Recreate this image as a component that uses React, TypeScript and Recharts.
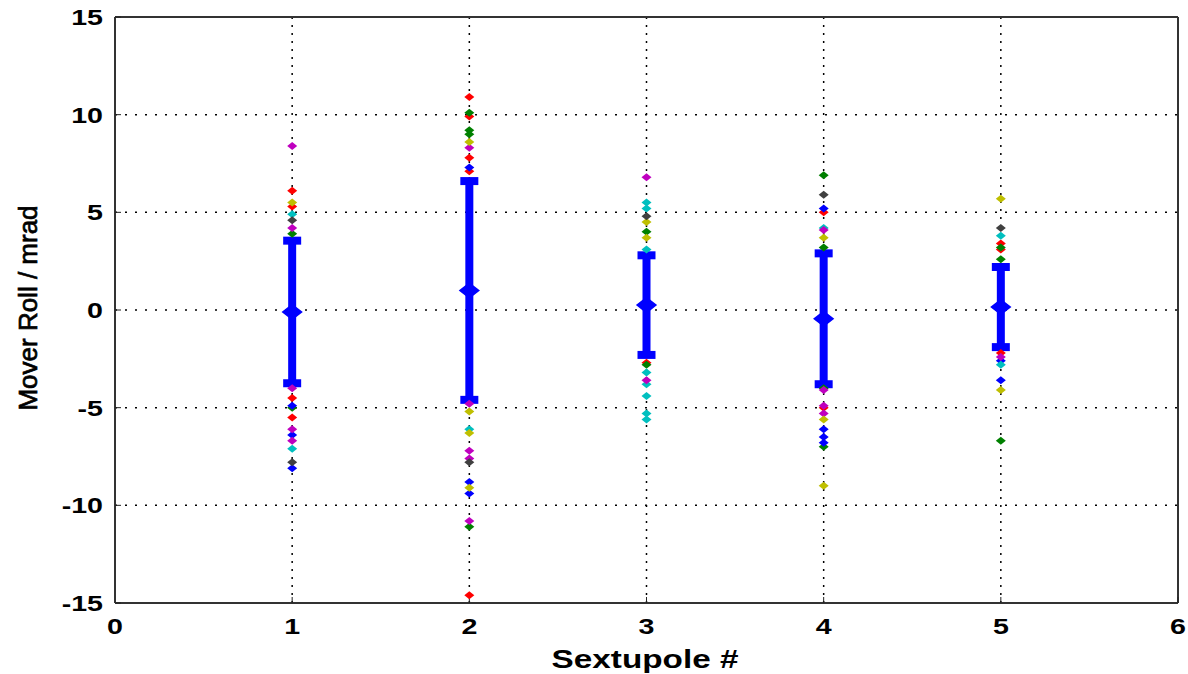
import {
  ScatterChart,
  Scatter,
  XAxis,
  YAxis,
  CartesianGrid,
  ErrorBar,
  ReferenceLine,
} from "recharts";

// [sextupole, roll in mrad] per measurement colour
const redPts = [
  [1, 6.1], [1, 5.3], [1, -4.5], [1, -5.5],
  [2, 10.9], [2, 9.9], [2, 7.8], [2, 7.1], [2, -14.6],
  [3, -2.7],
  [4, 5.0], [4, -5.0],
  [5, 3.4], [5, 3.1], [5, -2.2],
];
const greenPts = [
  [1, 3.9], [1, -5.0],
  [2, 10.1], [2, 9.2], [2, 9.0], [2, -11.1],
  [3, 4.0], [3, -2.8],
  [4, 6.9], [4, 3.2], [4, -4.0], [4, -7.0],
  [5, 3.2], [5, 2.6], [5, -6.7],
];
const bluePts = [
  [1, -4.9], [1, -6.4], [1, -8.1],
  [2, 7.3], [2, -8.8], [2, -9.4],
  [4, 5.2], [4, -6.1], [4, -6.5], [4, -6.8],
  [5, -2.6], [5, -3.6],
];
const cyanPts = [
  [1, 4.9], [1, -7.1],
  [2, -6.1],
  [3, 5.5], [3, 5.2], [3, 3.1], [3, -3.2], [3, -3.8], [3, -4.4], [3, -5.3], [3, -5.6],
  [4, 4.2],
  [5, 3.8], [5, -2.8],
];
const magentaPts = [
  [1, 8.4], [1, 4.2], [1, -4.0], [1, -6.1], [1, -6.7],
  [2, 8.3], [2, -4.8], [2, -7.2], [2, -7.6], [2, -10.8],
  [3, 6.8], [3, -3.6],
  [4, 4.1], [4, -4.1], [4, -4.9], [4, -5.3],
  [5, -2.4],
];
const yellowPts = [
  [1, 5.5],
  [2, 8.6], [2, -5.2], [2, -6.3], [2, -9.1],
  [3, 4.5], [3, 3.7],
  [4, 3.7], [4, -5.6], [4, -9.0],
  [5, 5.7], [5, -4.1],
];
const grayPts = [
  [1, 4.6], [1, -7.8],
  [2, -7.8],
  [3, 4.8],
  [4, 5.9],
  [5, 4.2],
];

// mean and standard deviation per sextupole
const sextupoles = [1, 2, 3, 4, 5];
const means = [-0.1, 1.0, 0.25, -0.45, 0.15];
const stds = [3.65, 5.6, 2.55, 3.35, 2.05];

const xTicks = [0, 1, 2, 3, 4, 5, 6];
const yTicks = [-15, -10, -5, 0, 5, 10, 15];

const series = [
  { name: "red", color: "#ff0000", pts: redPts },
  { name: "green", color: "#008000", pts: greenPts },
  { name: "blue", color: "#0000ff", pts: bluePts },
  { name: "cyan", color: "#00bfbf", pts: cyanPts },
  { name: "magenta", color: "#bf00bf", pts: magentaPts },
  { name: "yellow", color: "#bfbf00", pts: yellowPts },
  { name: "gray", color: "#404040", pts: grayPts },
];

const meanData = sextupoles.map((s, i) => ({ x: s, y: means[i], err: stds[i] }));

const FONT = '"Liberation Sans", Arial, sans-serif';

function Diamond(props: any) {
  const { cx, cy, fill } = props;
  if (cx == null || cy == null) return null;
  return (
    <polygon
      points={`${cx},${cy - 4} ${cx + 5},${cy} ${cx},${cy + 4} ${cx - 5},${cy}`}
      fill={fill}
    />
  );
}

function MeanMarker(props: any) {
  const { cx, cy } = props;
  if (cx == null || cy == null) return null;
  return (
    <polygon
      points={`${cx},${cy - 7} ${cx + 9},${cy} ${cx},${cy + 7} ${cx - 9},${cy}`}
      fill="#0000ff"
      stroke="#0000ff"
      strokeWidth={2}
    />
  );
}

function XTick(props: any) {
  const { x, payload } = props;
  return (
    <text
      transform={`translate(${x},634) scale(1.3,1)`}
      textAnchor="middle"
      fontFamily={FONT}
      fontWeight="bold"
      fontSize={22}
      fill="#000"
    >
      {payload.value}
    </text>
  );
}

function YTick(props: any) {
  const { y, payload } = props;
  return (
    <text
      transform={`translate(103,${y + 8}) scale(1.3,1)`}
      textAnchor="end"
      fontFamily={FONT}
      fontWeight="bold"
      fontSize={22}
      fill="#000"
    >
      {payload.value}
    </text>
  );
}

export default function App() {
  return (
    <div style={{ position: "absolute", left: 0, top: 0, background: "#fff" }}>
      <ScatterChart
        width={1188}
        height={674}
        margin={{ top: 17, right: 10, bottom: 0, left: 0 }}
      >
        <CartesianGrid
          vertical={false}
          stroke="#000"
          strokeWidth={1.5}
          strokeDasharray="2 8"
        />
        {sextupoles.map((s) => (
          <ReferenceLine
            key={"v" + s}
            x={s}
            stroke="#000"
            strokeWidth={1.5}
            strokeDasharray="2 6"
          />
        ))}
        <XAxis
          type="number"
          dataKey="x"
          domain={[0, 6]}
          ticks={xTicks}
          interval={0}
          height={71}
          tick={<XTick />}
          tickSize={-6}
          tickMargin={6}
          tickLine={{ stroke: "#222" }}
          axisLine={{ stroke: "#333", strokeWidth: 2 }}
          allowDataOverflow
        />
        <YAxis
          type="number"
          dataKey="y"
          domain={[-15, 15]}
          ticks={yTicks}
          interval={0}
          width={115}
          tick={<YTick />}
          tickSize={-6}
          tickMargin={6}
          tickLine={{ stroke: "#222" }}
          axisLine={{ stroke: "#333", strokeWidth: 2 }}
          allowDataOverflow
        />
        <ReferenceLine y={15} stroke="#333" strokeWidth={2} />
        <ReferenceLine x={6} stroke="#333" strokeWidth={2} />
        {series.map((s) => (
          <Scatter
            key={s.name}
            name={s.name}
            data={s.pts.map(([x, y]) => ({ x, y }))}
            fill={s.color}
            shape={<Diamond />}
            isAnimationActive={false}
          />
        ))}
        <Scatter
          name="mean"
          data={meanData}
          fill="#0000ff"
          shape={<MeanMarker />}
          isAnimationActive={false}
        >
          <ErrorBar dataKey="err" direction="y" width={9} stroke="#0000ff" strokeWidth={8} />
        </Scatter>
        <text
          transform="translate(645,668) scale(1.28,1)"
          textAnchor="middle"
          fontFamily={FONT}
          fontWeight="bold"
          fontSize={26}
          fill="#000"
        >
          Sextupole #
        </text>
        <text
          transform="translate(37,308) rotate(-90)"
          textAnchor="middle"
          fontFamily={FONT}
          fontSize={26}
          fill="#000"
          stroke="#000"
          strokeWidth={0.7}
        >
          Mover Roll / mrad
        </text>
      </ScatterChart>
    </div>
  );
}
